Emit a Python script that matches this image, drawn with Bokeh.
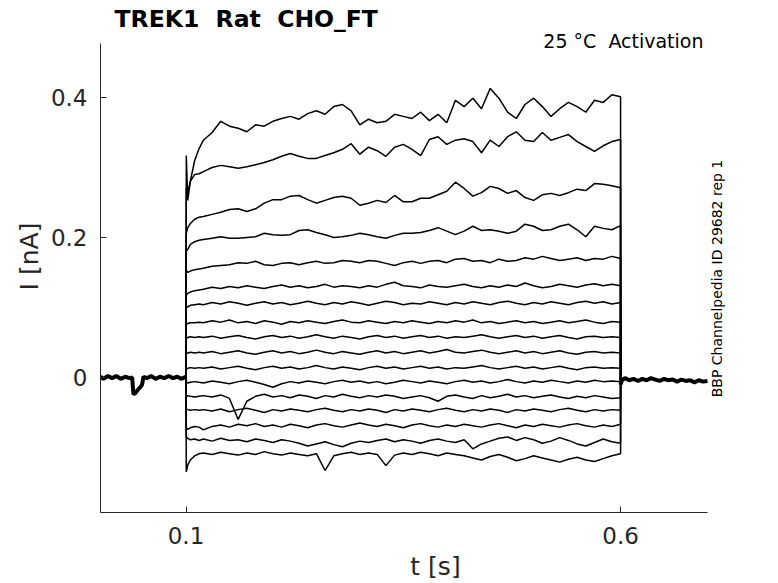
from bokeh.plotting import figure
from bokeh.models import Range1d, FixedTicker, Label
from bokeh.embed import file_html
from bokeh.resources import INLINE

# ---------------- data ----------------
title_text = "TREK1  Rat  CHO_FT"
condition_text = "25 °C  Activation"
source_text = "BBP Channelpedia ID 29682 rep 1"

x_ticks = [0.1, 0.6]
x_tick_labels = ["0.1", "0.6"]
y_ticks = [0.0, 0.2, 0.4]
y_tick_labels = ["0", "0.2", "0.4"]

# holding period (all sweeps overlap)
t_hold = [0.0016, 0.005, 0.01, 0.015, 0.02, 0.025, 0.03, 0.035, 0.038, 0.0395,
          0.042, 0.045, 0.048, 0.0495, 0.051, 0.055, 0.06, 0.065, 0.07, 0.075,
          0.08, 0.085, 0.09, 0.095, 0.0998]
i_hold = [0.001, -0.002, 0.002, -0.001, 0.002, -0.002, 0.001, -0.001, 0.000, -0.024,
          -0.022, -0.017, -0.013, -0.010, 0.001, -0.001, 0.002, -0.002, 0.001, -0.001,
          0.002, -0.001, 0.001, -0.002, 0.001]

# after the step (all sweeps overlap)
t_tail = [0.6, 0.6015, 0.605, 0.61, 0.615, 0.62, 0.625, 0.63, 0.635, 0.64, 0.645,
          0.65, 0.655, 0.66, 0.665, 0.67, 0.675, 0.68, 0.685, 0.69, 0.695, 0.7]
i_tail = [-0.010, -0.004, -0.001, -0.004, -0.002, -0.005, -0.002, -0.004, -0.001, -0.003, -0.005,
          -0.002, -0.004, -0.003, -0.006, -0.003, -0.005, -0.004, -0.007, -0.004, -0.006, -0.005]

# sample times during the voltage step
t_step = [0.1003, 0.102, 0.105, 0.11, 0.115,
          0.12, 0.13, 0.14, 0.15, 0.16, 0.17, 0.18, 0.19, 0.20, 0.21,
          0.22, 0.23, 0.24, 0.25, 0.26, 0.27, 0.28, 0.29, 0.30, 0.31,
          0.32, 0.33, 0.34, 0.35, 0.36, 0.37, 0.38, 0.39, 0.40, 0.41,
          0.42, 0.43, 0.44, 0.45, 0.46, 0.47, 0.48, 0.49, 0.50, 0.51,
          0.52, 0.53, 0.54, 0.55, 0.56, 0.57, 0.58, 0.59, 0.60]

sweep_01 = [0.317, 0.253, 0.281, 0.310, 0.327,
            0.339, 0.350, 0.366, 0.359, 0.356, 0.351, 0.361, 0.359, 0.366, 0.370,
            0.373, 0.369, 0.377, 0.381, 0.376, 0.387, 0.390, 0.381, 0.361, 0.369,
            0.364, 0.366, 0.376, 0.373, 0.370, 0.379, 0.367, 0.376, 0.364, 0.396,
            0.387, 0.399, 0.384, 0.413, 0.399, 0.379, 0.370, 0.390, 0.399, 0.387,
            0.373, 0.384, 0.393, 0.387, 0.379, 0.396, 0.393, 0.404, 0.401]
sweep_02 = [0.270, 0.265, 0.280, 0.290, 0.291,
            0.294, 0.300, 0.303, 0.301, 0.299, 0.301, 0.304, 0.307, 0.311, 0.316,
            0.320, 0.316, 0.313, 0.313, 0.317, 0.321, 0.326, 0.334, 0.319, 0.329,
            0.324, 0.316, 0.329, 0.333, 0.326, 0.317, 0.340, 0.344, 0.333, 0.339,
            0.341, 0.337, 0.321, 0.339, 0.330, 0.344, 0.351, 0.339, 0.337, 0.350,
            0.339, 0.343, 0.347, 0.337, 0.330, 0.323, 0.331, 0.337, 0.340]
sweep_03 = [0.206, 0.214, 0.220, 0.226, 0.229,
            0.230, 0.233, 0.236, 0.240, 0.241, 0.237, 0.241, 0.249, 0.254, 0.254,
            0.259, 0.260, 0.254, 0.249, 0.253, 0.257, 0.259, 0.256, 0.246, 0.249,
            0.253, 0.250, 0.260, 0.251, 0.251, 0.256, 0.256, 0.261, 0.266, 0.279,
            0.270, 0.259, 0.264, 0.273, 0.270, 0.263, 0.267, 0.257, 0.253, 0.261,
            0.263, 0.260, 0.264, 0.269, 0.267, 0.277, 0.276, 0.274, 0.271]
sweep_04 = [0.181, 0.183, 0.190, 0.194, 0.196,
            0.197, 0.199, 0.201, 0.199, 0.199, 0.200, 0.201, 0.206, 0.204, 0.203,
            0.204, 0.210, 0.211, 0.207, 0.204, 0.200, 0.201, 0.203, 0.206, 0.204,
            0.201, 0.199, 0.203, 0.206, 0.206, 0.207, 0.210, 0.214, 0.209, 0.204,
            0.209, 0.216, 0.210, 0.211, 0.209, 0.206, 0.209, 0.219, 0.216, 0.210,
            0.211, 0.216, 0.219, 0.211, 0.201, 0.216, 0.213, 0.211, 0.217]
sweep_05 = [0.153, 0.150, 0.152, 0.154, 0.155,
            0.156, 0.159, 0.160, 0.161, 0.164, 0.163, 0.166, 0.161, 0.160, 0.163,
            0.164, 0.161, 0.164, 0.166, 0.163, 0.164, 0.167, 0.166, 0.164, 0.167,
            0.166, 0.163, 0.160, 0.164, 0.166, 0.163, 0.166, 0.167, 0.164, 0.169,
            0.170, 0.166, 0.167, 0.164, 0.169, 0.166, 0.167, 0.171, 0.169, 0.173,
            0.170, 0.167, 0.169, 0.171, 0.167, 0.170, 0.169, 0.173, 0.170]
sweep_06 = [0.118, 0.120, 0.122, 0.124, 0.125,
            0.126, 0.129, 0.127, 0.130, 0.128, 0.131, 0.129, 0.127, 0.130, 0.132,
            0.129, 0.131, 0.128, 0.130, 0.133, 0.129, 0.131, 0.130, 0.128, 0.131,
            0.129, 0.133, 0.136, 0.131, 0.130, 0.128, 0.132, 0.130, 0.129, 0.131,
            0.133, 0.130, 0.128, 0.131, 0.129, 0.132, 0.130, 0.135, 0.131, 0.128,
            0.130, 0.133, 0.131, 0.129, 0.132, 0.134, 0.131, 0.133, 0.131]
sweep_07 = [0.100, 0.101, 0.103, 0.104, 0.105,
            0.104, 0.107, 0.105, 0.108, 0.106, 0.103, 0.106, 0.108, 0.105, 0.107,
            0.104, 0.106, 0.109, 0.106, 0.104, 0.107, 0.105, 0.108, 0.106, 0.103,
            0.106, 0.109, 0.107, 0.104, 0.106, 0.105, 0.108, 0.106, 0.104, 0.107,
            0.105, 0.108, 0.106, 0.104, 0.107, 0.109, 0.106, 0.104, 0.107, 0.105,
            0.108, 0.106, 0.104, 0.107, 0.109, 0.106, 0.108, 0.105, 0.107]
sweep_08 = [0.076, 0.077, 0.078, 0.078, 0.079,
            0.078, 0.081, 0.079, 0.082, 0.078, 0.080, 0.077, 0.081, 0.079, 0.076,
            0.080, 0.078, 0.081, 0.079, 0.077, 0.080, 0.082, 0.079, 0.078, 0.081,
            0.079, 0.077, 0.080, 0.078, 0.081, 0.079, 0.077, 0.080, 0.078, 0.081,
            0.079, 0.082, 0.078, 0.080, 0.077, 0.079, 0.081, 0.078, 0.080, 0.077,
            0.079, 0.081, 0.078, 0.080, 0.082, 0.079, 0.077, 0.080, 0.079]
sweep_09 = [0.056, 0.057, 0.058, 0.057, 0.058,
            0.057, 0.059, 0.056, 0.058, 0.060, 0.057, 0.055, 0.058, 0.060, 0.057,
            0.059, 0.056, 0.058, 0.061, 0.058, 0.056, 0.059, 0.057, 0.055, 0.058,
            0.060, 0.057, 0.059, 0.056, 0.058, 0.060, 0.057, 0.059, 0.056, 0.058,
            0.057, 0.059, 0.061, 0.058, 0.056, 0.058, 0.060, 0.057, 0.059, 0.056,
            0.058, 0.060, 0.057, 0.055, 0.058, 0.059, 0.057, 0.058, 0.057]
sweep_10 = [0.034, 0.035, 0.036, 0.035, 0.036,
            0.035, 0.037, 0.034, 0.036, 0.038, 0.035, 0.033, 0.036, 0.038, 0.035,
            0.037, 0.034, 0.036, 0.039, 0.036, 0.034, 0.037, 0.035, 0.033, 0.036,
            0.038, 0.035, 0.037, 0.034, 0.036, 0.038, 0.035, 0.037, 0.040, 0.036,
            0.035, 0.037, 0.039, 0.036, 0.034, 0.036, 0.038, 0.035, 0.037, 0.034,
            0.036, 0.038, 0.035, 0.033, 0.036, 0.037, 0.035, 0.036, 0.035]
sweep_11 = [0.012, 0.013, 0.014, 0.013, 0.014,
            0.013, 0.015, 0.012, 0.014, 0.016, 0.013, 0.011, 0.014, 0.016, 0.013,
            0.015, 0.012, 0.014, 0.017, 0.014, 0.012, 0.015, 0.013, 0.011, 0.014,
            0.016, 0.013, 0.015, 0.012, 0.014, 0.016, 0.013, 0.015, 0.012, 0.014,
            0.013, 0.015, 0.017, 0.014, 0.012, 0.014, 0.016, 0.013, 0.015, 0.012,
            0.014, 0.016, 0.013, 0.011, 0.014, 0.015, 0.013, 0.014, 0.013]
sweep_12 = [-0.006, -0.008, -0.007, -0.006, -0.007,
            -0.008, -0.005, -0.007, -0.009, -0.006, -0.004, -0.007, -0.010, -0.014, -0.009,
            -0.006, -0.008, -0.005, -0.007, -0.009, -0.006, -0.004, -0.007, -0.005, -0.008,
            -0.006, -0.009, -0.007, -0.004, -0.006, -0.008, -0.005, -0.007, -0.009, -0.006,
            -0.004, -0.007, -0.005, -0.008, -0.006, -0.003, -0.006, -0.008, -0.005, -0.007,
            -0.004, -0.006, -0.008, -0.005, -0.007, -0.004, -0.006, -0.005, -0.006]
sweep_13 = [-0.028, -0.026, -0.027, -0.028, -0.027,
            -0.026, -0.028, -0.025, -0.030, -0.060, -0.034, -0.027, -0.024, -0.028, -0.026,
            -0.029, -0.025, -0.027, -0.030, -0.026, -0.028, -0.024, -0.027, -0.029, -0.026,
            -0.028, -0.025, -0.027, -0.030, -0.028, -0.026, -0.029, -0.034, -0.027, -0.025,
            -0.028, -0.030, -0.026, -0.029, -0.027, -0.024, -0.028, -0.026, -0.029, -0.027,
            -0.025, -0.028, -0.030, -0.027, -0.029, -0.026, -0.028, -0.030, -0.029]
sweep_14 = [-0.045, -0.046, -0.047, -0.046, -0.047,
            -0.046, -0.048, -0.045, -0.049, -0.046, -0.044, -0.047, -0.050, -0.046, -0.048,
            -0.045, -0.047, -0.049, -0.046, -0.044, -0.047, -0.049, -0.046, -0.048, -0.045,
            -0.047, -0.050, -0.046, -0.048, -0.045, -0.047, -0.049, -0.046, -0.044, -0.047,
            -0.049, -0.046, -0.048, -0.045, -0.047, -0.050, -0.046, -0.048, -0.045, -0.047,
            -0.049, -0.046, -0.044, -0.047, -0.049, -0.046, -0.048, -0.046, -0.047]
sweep_15 = [-0.072, -0.074, -0.072, -0.070, -0.071,
            -0.075, -0.070, -0.068, -0.071, -0.067, -0.069, -0.066, -0.070, -0.068, -0.071,
            -0.067, -0.069, -0.072, -0.068, -0.066, -0.069, -0.071, -0.068, -0.065, -0.068,
            -0.070, -0.067, -0.069, -0.072, -0.068, -0.066, -0.069, -0.071, -0.068, -0.070,
            -0.067, -0.069, -0.071, -0.068, -0.066, -0.069, -0.072, -0.068, -0.070, -0.067,
            -0.069, -0.071, -0.068, -0.066, -0.069, -0.071, -0.068, -0.070, -0.067]
sweep_16 = [-0.085, -0.087, -0.089, -0.088, -0.090,
            -0.088, -0.091, -0.087, -0.090, -0.089, -0.092, -0.088, -0.090, -0.093, -0.089,
            -0.091, -0.094, -0.098, -0.095, -0.092, -0.096, -0.099, -0.094, -0.091, -0.093,
            -0.090, -0.088, -0.092, -0.089, -0.091, -0.094, -0.090, -0.088, -0.091, -0.093,
            -0.089, -0.102, -0.095, -0.091, -0.087, -0.085, -0.090, -0.086, -0.089, -0.094,
            -0.091, -0.086, -0.090, -0.095, -0.098, -0.093, -0.088, -0.092, -0.094]
sweep_17 = [-0.135, -0.125, -0.118, -0.112, -0.109,
            -0.108, -0.110, -0.107, -0.109, -0.111, -0.108, -0.110, -0.106, -0.109, -0.111,
            -0.108, -0.110, -0.112, -0.109, -0.133, -0.112, -0.109, -0.107, -0.110, -0.108,
            -0.110, -0.126, -0.111, -0.108, -0.110, -0.107, -0.109, -0.112, -0.108, -0.110,
            -0.112, -0.115, -0.118, -0.113, -0.110, -0.114, -0.119, -0.116, -0.112, -0.115,
            -0.118, -0.121, -0.117, -0.114, -0.118, -0.120, -0.116, -0.112, -0.109]

sweeps = [sweep_01, sweep_02, sweep_03, sweep_04, sweep_05, sweep_06, sweep_07,
          sweep_08, sweep_09, sweep_10, sweep_11, sweep_12, sweep_13, sweep_14,
          sweep_15, sweep_16, sweep_17]

step_on = 0.1
step_off = 0.6

# visible extent of the axes (data units)
x_axis_extent = (0.0016, 0.7)
y_axis_extent = (-0.193, 0.477)

# ---------------- figure ----------------
FONT = "DejaVu Sans"
AX = "#262626"


def keep_spaces(s):
    # SVG collapses runs of spaces; keep the second one as a no-break space
    return s.replace("  ", " \u00a0")


# the frame is enlarged upward/rightward so the annotation texts are not clipped;
# the axis lines are limited to the original extent with `bounds`.
p = figure(frame_width=670, frame_height=512,
           x_range=Range1d(0.0016, 0.7725), y_range=Range1d(-0.193, 0.5386),
           output_backend="svg", toolbar_location=None,
           min_border_left=100, min_border_right=0,
           min_border_top=0, min_border_bottom=60)
p.background_fill_color = "white"
p.border_fill_color = "white"
p.outline_line_color = None
p.grid.visible = False

# traces
p.line(t_hold, i_hold, line_color="black", line_width=4)
p.line(t_tail, i_tail, line_color="black", line_width=4)
for sw in sweeps:
    n = min(len(sw), len(t_step))
    xs = [step_on] + t_step[:n] + [step_off]
    ys = [i_hold[-1]] + sw[:n] + [i_tail[0]]
    p.line(xs, ys, line_color="black", line_width=1.5)

# axes
p.xaxis.ticker = FixedTicker(ticks=x_ticks)
p.yaxis.ticker = FixedTicker(ticks=y_ticks)
p.xaxis.major_label_overrides = {t: s for t, s in zip(x_ticks, x_tick_labels)}
p.yaxis.major_label_overrides = {t: s for t, s in zip(y_ticks, y_tick_labels)}
p.xaxis.bounds = x_axis_extent
p.yaxis.bounds = y_axis_extent
p.xaxis.axis_label = "t [s]"
p.yaxis.axis_label = "I [nA]"
for ax in (p.xaxis[0], p.yaxis[0]):
    ax.axis_line_color = AX
    ax.axis_line_width = 1
    ax.major_tick_line_color = AX
    ax.major_tick_in = 6
    ax.major_tick_out = 0
    ax.minor_tick_line_color = None
    ax.major_label_text_font = FONT
    ax.major_label_text_font_size = "23px"
    ax.major_label_text_color = AX
    ax.axis_label_text_font = FONT
    ax.axis_label_text_font_size = "25px"
    ax.axis_label_text_font_style = "normal"
    ax.axis_label_text_color = AX
p.xaxis.major_label_standoff = 14
p.xaxis.axis_label_standoff = 5
p.yaxis.major_label_standoff = 13
p.yaxis.axis_label_standoff = 4

# texts (screen units relative to the frame: x from its left, y from its bottom)
p.add_layout(Label(x=14, y=494, x_units="screen", y_units="screen",
                   text=keep_spaces(title_text), text_font=FONT, text_font_style="bold",
                   text_font_size="23.5px", text_color="black",
                   text_baseline="alphabetic", text_align="left"))
p.add_layout(Label(x=603, y=471.5, x_units="screen", y_units="screen",
                   text=keep_spaces(condition_text), text_font=FONT, text_font_size="19px",
                   text_color="black", text_baseline="alphabetic", text_align="right"))
p.add_layout(Label(x=616, y=234, x_units="screen", y_units="screen",
                   text=source_text, text_font=FONT, text_font_size="14px",
                   text_color="black", text_baseline="middle", text_align="center",
                   angle=1.5707963))

open("out.html", "w").write(file_html(p, INLINE))
